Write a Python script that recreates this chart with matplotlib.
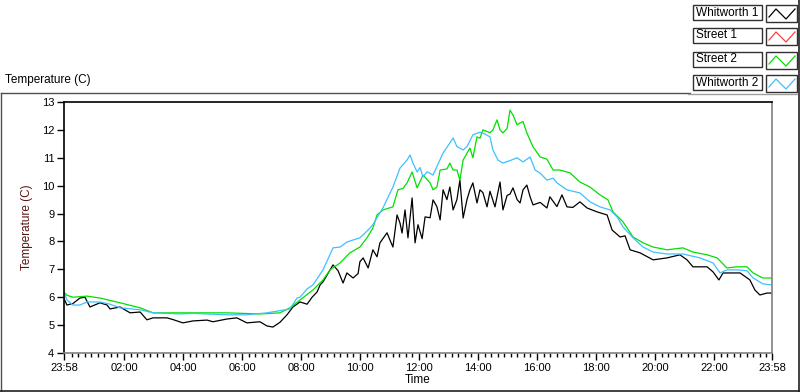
import matplotlib
matplotlib.use('Agg')
import matplotlib.pyplot as plt
from matplotlib.patches import Rectangle
from matplotlib.lines import Line2D

plt.rcParams['font.family'] = ['Liberation Sans', 'DejaVu Sans']

# hours elapsed since 23:58, temperature in C
w1_t = [0.00, 0.10, 0.31, 0.54, 0.71, 0.88, 1.22, 1.46, 1.56, 1.90, 2.24, 2.58, 2.81, 3.02, 3.49, 3.69,
        4.03, 4.37, 4.85, 5.05, 5.53, 5.86, 6.20, 6.64, 6.88, 7.08, 7.32, 7.56, 7.76, 8.00, 8.24, 8.41,
        8.58, 8.68, 8.78, 9.02, 9.12, 9.29, 9.46, 9.59, 9.80, 9.97, 10.03, 10.14, 10.31, 10.47, 10.61,
        10.71, 10.81, 10.95, 11.05, 11.15, 11.29, 11.39, 11.46, 11.56, 11.66, 11.80, 11.90, 12.00, 12.14,
        12.24, 12.41, 12.51, 12.64, 12.75, 12.85, 12.98, 13.08, 13.19, 13.32, 13.42, 13.53, 13.66, 13.76,
        13.86, 14.00, 14.10, 14.20, 14.34, 14.44, 14.61, 14.78, 14.88, 15.02, 15.12, 15.22, 15.36, 15.46,
        15.56, 15.69, 15.80, 15.90, 16.14, 16.37, 16.47, 16.71, 16.88, 17.05, 17.25, 17.49, 17.73, 18.07,
        18.41, 18.58, 18.85, 19.02, 19.19, 19.53, 19.97, 20.44, 20.88, 21.12, 21.32, 21.80, 22.00, 22.20,
        22.34, 22.58, 22.92, 23.25, 23.42, 23.59, 23.83, 24.00]
w1_v = [5.95, 5.72, 5.78, 5.97, 6.00, 5.65, 5.80, 5.72, 5.58, 5.65, 5.44, 5.47, 5.19, 5.26, 5.26, 5.20,
        5.08, 5.15, 5.18, 5.12, 5.22, 5.26, 5.08, 5.12, 4.97, 4.93, 5.10, 5.37, 5.65, 5.83, 5.75, 6.00,
        6.19, 6.44, 6.55, 6.98, 7.16, 6.95, 6.51, 6.87, 6.69, 6.85, 7.27, 7.41, 7.05, 7.70, 7.45,
        7.95, 8.10, 8.31, 8.05, 7.80, 8.95, 8.66, 8.30, 9.13, 8.13, 9.56, 7.95, 8.60, 8.10,
        8.88, 8.85, 9.49, 9.25, 8.77, 9.85, 9.50, 9.95, 9.13, 9.50, 10.20, 8.84, 9.50, 9.85,
        10.10, 9.38, 9.85, 9.75, 9.24, 9.80, 9.24, 10.13, 9.13, 9.65, 9.70, 9.92, 9.50, 9.38,
        9.85, 10.02, 9.60, 9.31, 9.40, 9.20, 9.60, 9.25, 9.67, 9.24, 9.22, 9.42, 9.20, 9.06,
        8.95, 8.41, 8.16, 8.20, 7.70, 7.59, 7.34, 7.41, 7.52, 7.34, 7.09, 7.09, 6.91, 6.62,
        6.87, 6.87, 6.87, 6.62, 6.26, 6.08, 6.15, 6.15]

s2_t = [0.00, 0.10, 0.31, 0.78, 1.22, 1.90, 2.58, 3.02, 3.93, 5.53, 6.64, 7.32, 7.66, 8.00, 8.44, 8.78,
        9.02, 9.36, 9.69, 10.03, 10.27, 10.47, 10.61, 10.81, 11.15, 11.32, 11.49, 11.63, 11.80, 11.97,
        12.07, 12.17, 12.41, 12.51, 12.64, 12.75, 12.98, 13.08, 13.19, 13.32, 13.42, 13.53, 13.76, 13.86,
        14.00, 14.10, 14.20, 14.44, 14.54, 14.68, 14.78, 14.88, 15.02, 15.12, 15.22, 15.36, 15.46, 15.56,
        15.69, 15.90, 16.14, 16.37, 16.58, 16.81, 17.15, 17.49, 17.83, 18.17, 18.44, 18.61, 18.95, 19.29,
        19.63, 19.97, 20.44, 20.98, 21.32, 21.80, 22.14, 22.47, 22.81, 23.15, 23.36, 23.69, 24.00]
s2_v = [6.18, 6.07, 6.00, 6.04, 5.97, 5.80, 5.62, 5.44, 5.44, 5.44, 5.40, 5.44, 5.62, 5.90, 6.26, 6.62,
        6.98, 7.23, 7.59, 7.80, 8.13, 8.48, 8.95, 9.13, 9.24, 9.85, 9.90, 10.10, 10.49, 9.92,
        10.15, 10.38, 10.10, 9.85, 9.95, 10.56, 10.60, 10.81, 10.56, 10.56, 10.20, 10.92, 11.35, 11.00,
        11.75, 11.70, 12.00, 11.90, 12.00, 12.36, 12.00, 11.89, 12.05, 12.71, 12.53, 12.18, 12.25, 12.30,
        11.89, 11.39, 11.03, 10.95, 10.56, 10.56, 10.46, 10.13, 9.95, 9.67, 9.49, 9.06, 8.70, 8.16,
        7.95, 7.80, 7.70, 7.77, 7.62, 7.52, 7.41, 7.05, 7.09, 7.09, 6.87, 6.69, 6.69]

w2_t = [0.00, 0.10, 0.31, 0.54, 0.78, 1.22, 1.56, 1.90, 2.58, 3.02, 3.93, 4.37, 5.53, 6.20, 6.88, 7.66,
        7.90, 8.00, 8.24, 8.44, 8.78, 9.12, 9.36, 9.59, 10.03, 10.31, 10.47, 10.81, 11.15, 11.39, 11.63,
        11.73, 11.83, 11.97, 12.07, 12.17, 12.31, 12.51, 12.85, 13.08, 13.19, 13.32, 13.53, 13.66, 13.86,
        14.10, 14.27, 14.44, 14.54, 14.71, 14.88, 15.12, 15.36, 15.56, 15.80, 15.97, 16.14, 16.37, 16.58,
        16.71, 17.05, 17.49, 17.83, 18.17, 18.51, 18.75, 18.95, 19.29, 19.63, 19.97, 20.44, 20.98, 21.56,
        22.00, 22.24, 22.47, 22.81, 23.15, 23.36, 23.69, 24.00]
w2_v = [6.19, 5.90, 5.72, 5.72, 5.83, 5.83, 5.75, 5.62, 5.55, 5.44, 5.40, 5.42, 5.37, 5.37, 5.44, 5.58,
        5.97, 6.00, 6.30, 6.44, 6.98, 7.77, 7.80, 7.98, 8.13, 8.41, 8.60, 9.20, 9.95, 10.63, 10.92,
        11.10, 10.81, 10.49, 10.65, 10.31, 10.50, 10.38, 11.17, 11.53, 11.71, 11.40, 11.28, 11.40, 11.82,
        11.92, 11.85, 11.75, 11.28, 10.92, 10.81, 10.90, 11.00, 10.85, 11.03, 10.56, 10.45, 10.20, 10.27,
        10.10, 9.85, 9.74, 9.42, 9.24, 9.13, 8.88, 8.52, 8.13, 7.80, 7.62, 7.55, 7.55, 7.41,
        7.23, 6.87, 6.98, 6.98, 6.95, 6.69, 6.48, 6.44]

series_names = ['Whitworth 1', 'Street 1', 'Street 2', 'Whitworth 2']
series_colors = ['#000000', '#ff4040', '#00e000', '#40bfff']

tick_hours = [0.0] + [2.0333 + 2 * k for k in range(11)] + [24.0]
tick_labels = ['23:58', '02:00', '04:00', '06:00', '08:00', '10:00', '12:00',
               '14:00', '16:00', '18:00', '20:00', '22:00', '23:58']

fig = plt.figure(figsize=(8, 3.92), dpi=100)
fig.patch.set_facecolor('white')
ax = fig.add_axes([64 / 800, 1 - 353 / 392, (772 - 64) / 800, (353 - 102) / 392])

ax.plot(w1_t, w1_v, color=series_colors[0], lw=0.9)
ax.plot(s2_t, s2_v, color=series_colors[2], lw=0.9)
ax.plot(w2_t, w2_v, color=series_colors[3], lw=0.9)

ax.set_xlim(0, 24)
ax.set_ylim(4, 13)
ax.set_yticks(range(4, 14))
ax.set_xticks(tick_hours)
ax.set_xticklabels(tick_labels)
minor = [2.0333 + k * 2 / 9 for k in range(-9, 100)]
minor = [m for m in minor if 0.02 < m < 23.99 and min(abs(m - t) for t in tick_hours) > 0.05]
ax.set_xticks(minor, minor=True)

ax.tick_params(axis='both', which='major', length=5, width=1, labelsize=8, pad=2, colors='black')
ax.tick_params(axis='x', which='minor', length=3, width=1, colors='black')
for side in ['top', 'left']:
    ax.spines[side].set_color('black')
    ax.spines[side].set_linewidth(1.2)
for side in ['right', 'bottom']:
    ax.spines[side].set_color('#808080')
    ax.spines[side].set_linewidth(1.2)

ax.set_xlabel('Time', fontsize=8.5, labelpad=1)
ax.set_ylabel('Temperature (C)', fontsize=8.5, color='#5a1414', labelpad=6)

# chart frame
fig.add_artist(Line2D([0.5 / 800, 690 / 800], [1 - 93 / 392] * 2, color='#505050', lw=1))
fig.add_artist(Line2D([0.5 / 800] * 2, [1 - 93 / 392, 0.5 / 392], color='#505050', lw=1))
fig.add_artist(Line2D([0, 1], [0.6 / 392] * 2, color='#202020', lw=1.2))
fig.add_artist(Line2D([798.5 / 800] * 2, [0, 1], color='#202020', lw=1.2))
fig.add_artist(Line2D([688 / 800, 797 / 800], [1 - 94 / 392] * 2, color='#a0a0a0', lw=1))
fig.text(5 / 800, 1 - 80 / 392, 'Temperature (C)', fontsize=8.5, va='center', ha='left')

# legend
row_tops = [5, 28, 52, 75]
for name, color, top in zip(series_names, series_colors, row_tops):
    fig.add_artist(Rectangle((693 / 800, 1 - (top + 15) / 392), 69 / 800, 15 / 392,
                             facecolor='white', edgecolor='#303030', lw=1))
    fig.text(696 / 800, 1 - (top + 7.5) / 392, name, fontsize=8.5, va='center', ha='left')
    fig.add_artist(Rectangle((766 / 800, 1 - (top + 17) / 392), 31 / 800, 17 / 392,
                             facecolor='white', edgecolor='#303030', lw=1))
    zx = [769, 776, 786, 795]
    zy = [top + 12, top + 4, top + 14, top + 4]
    fig.add_artist(Line2D([v / 800 for v in zx], [1 - v / 392 for v in zy], color=color, lw=0.9))

fig.savefig('out.png', dpi=100)
